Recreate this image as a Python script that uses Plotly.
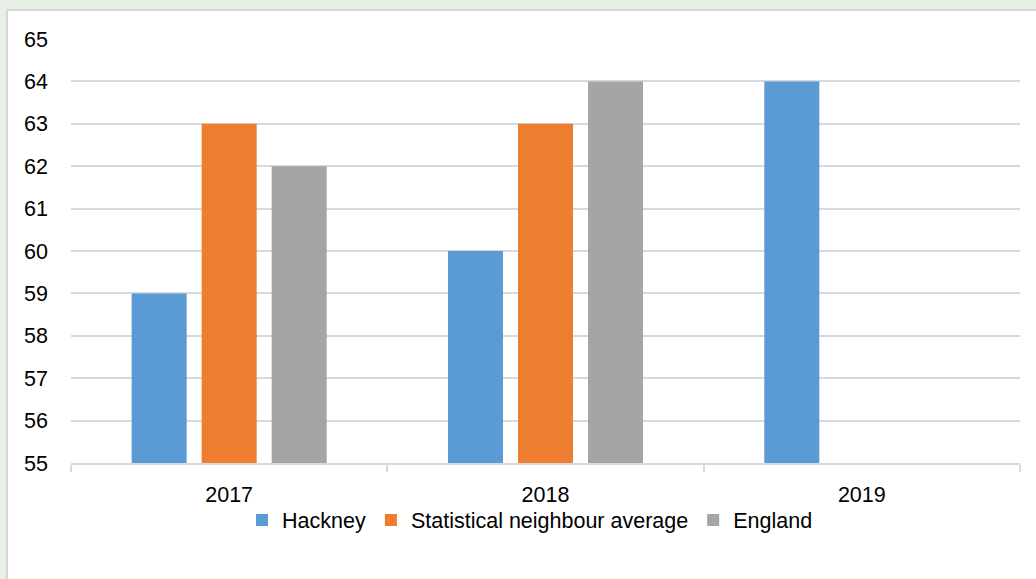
import plotly.graph_objects as go

years = ["2017", "2018", "2019"]
hackney = [59, 60, 64]
stat_neighbour = [63, 63, None]
england = [62, 64, None]

series_names = ["Hackney", "Statistical neighbour average", "England"]
series_colors = ["#5B9BD5", "#ED7D31", "#A5A5A5"]
y_ticks = list(range(55, 66))

FONT = "Liberation Sans"

fig = go.Figure()
for name, vals, col in zip(series_names, [hackney, stat_neighbour, england], series_colors):
    fig.add_trace(go.Bar(x=years, y=vals, name=name, marker_color=col,
                         marker_line_width=0))

L, R, T, B = 71, 16, 39, 116
W, H = 1036, 579
pw, ph = W - L - R, H - T - B

def px_x(x):
    return (x - L) / pw

def px_y(y):
    return (H - B - y) / ph

fig.add_shape(type="rect", xref="paper", yref="paper",
              x0=px_x(7), x1=px_x(1045), y0=px_y(10), y1=px_y(600),
              fillcolor="white", line=dict(color="#D6D6D6", width=2), layer="below")

fig.update_layout(
    width=W, height=H,
    margin=dict(l=L, r=R, t=T, b=B),
    paper_bgcolor="#E7EFE7",
    plot_bgcolor="rgba(0,0,0,0)",
    barmode="group",
    bargap=0.336,
    bargroupgap=0.214,
    font=dict(family=FONT, size=21.5, color="#000000"),
    showlegend=True,
    legend=dict(orientation="h", xref="paper", x=px_x(530), xanchor="center",
                y=px_y(520), yanchor="middle", font=dict(size=21.5),
                bgcolor="rgba(0,0,0,0)", itemwidth=30, tracegroupgap=0),
    xaxis=dict(type="category", showgrid=False, showline=True, linecolor="#D9D9D9",
               linewidth=2, ticks="outside", tickson="boundaries", ticklen=7,
               tickcolor="#D9D9D9", tickwidth=2, ticklabelstandoff=11,
               tickfont=dict(size=21.5)),
    yaxis=dict(range=[55, 65], tickvals=y_ticks, showgrid=True, gridcolor="#D9D9D9",
               gridwidth=2, zeroline=False, showline=False, ticklabelstandoff=22,
               tickfont=dict(size=21.5)),
)

fig.write_html("out.html")
